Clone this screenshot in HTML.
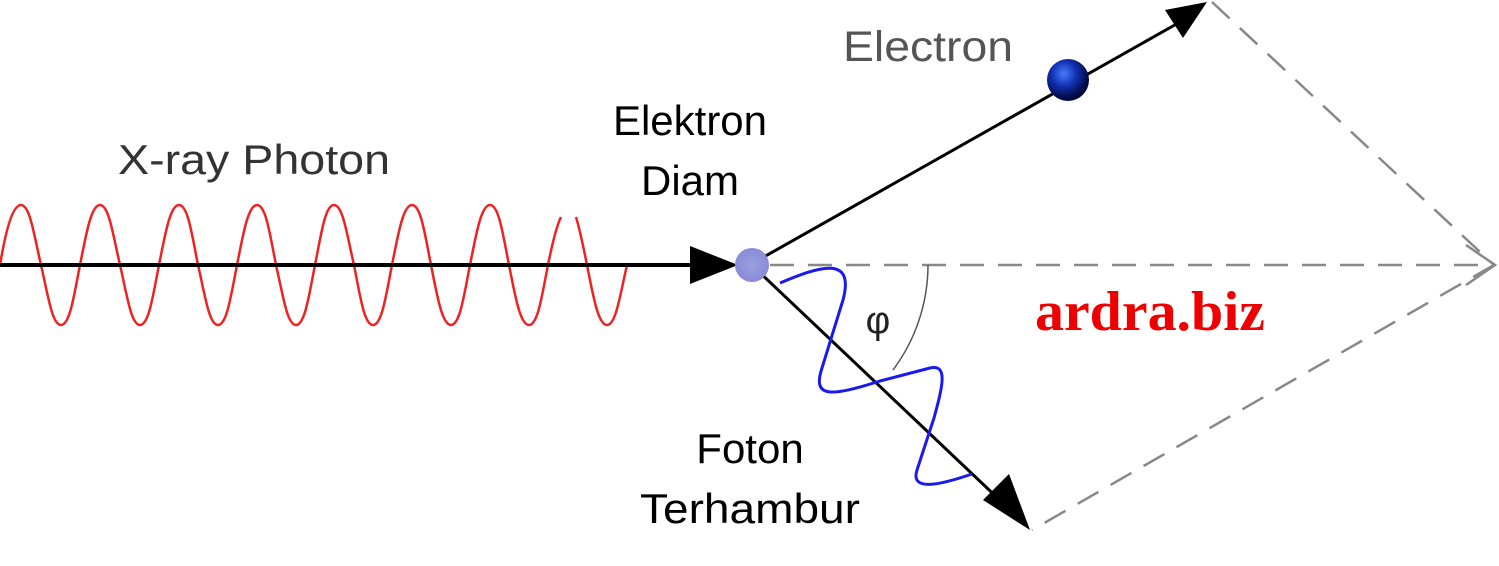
<!DOCTYPE html>
<html><head><meta charset="utf-8"><style>
html,body{margin:0;padding:0;background:#fff;width:1499px;height:566px;overflow:hidden}
svg{display:block}
</style></head><body>
<svg width="1499" height="566" viewBox="0 0 1499 566" xmlns="http://www.w3.org/2000/svg">
<path fill="none" stroke="#ee2222" stroke-width="2.5" d="M0,265 C5,235 12,205 21,205 C30,205 34,235 41,265 C48,295 52,325 61,325 C70,325 74,295 80,265 C86,235 91,205 100,205 C109,205 113,235 120,265 C127,295 131,325 140,325 C149,325 153,295 159,265 C165,235 170,205 179,205 C188,205 192,235 198,265 C205,295 209,325 218,325 C227,325 231,295 237,265 C243,235 248,205 257,205 C266,205 270,235 276,265 C283,295 287,325 296,325 C305,325 309,295 315,265 C321,235 325,205 334,205 C343,205 347,235 354,265 C360,295 364,325 373,325 C382,325 386,295 392,265 C398,235 403,205 412,205 C421,205 425,235 431,265 C437,295 442,325 451,325 C460,325 464,295 470,265 C476,235 481,205 490,205 C499,205 503,235 509,265 C515,295 520,325 529,325 C538,325 542,295 548,265 C553,240 557,225 561,217 M576,217 C580,230 583,245 587,265 C593,295 598,325 607,325 C616,325 620,295 627,265"/>
<line x1="0" y1="265" x2="700" y2="265" stroke="#000" stroke-width="4"/>
<polygon points="690,246 738,265 690,284" fill="#000"/>
<g stroke="#888" stroke-width="2.5" fill="none" stroke-dasharray="24,14">
<line x1="770" y1="265" x2="1492" y2="265"/>
<line x1="1212" y1="2" x2="1494" y2="265"/>
<line x1="1494" y1="265" x2="1032" y2="530"/>
</g>
<polyline points="1466,245 1495,265 1466,285" fill="none" stroke="#888" stroke-width="2.5"/>
<path d="M928,265 A176,176 0 0 1 893,370" fill="none" stroke="#555" stroke-width="1.5"/>
<line x1="762" y1="258" x2="1180" y2="22" stroke="#000" stroke-width="3"/>
<polygon points="1165,10 1207,2 1183,38" fill="#000"/>
<line x1="755" y1="268" x2="1005" y2="505" stroke="#000" stroke-width="3"/>
<polygon points="1030,530 983,500 1009,474" fill="#000"/>
<path d="M780,283 C820,266 855,255 843,300 L822,368 C812,398 830,397 880,381 L930,368 C948,364 943,385 934,418 L917,470 C910,492 940,485 972,474" fill="none" stroke="#1a1aee" stroke-width="3"/>
<defs>
<radialGradient id="g1" cx="50%" cy="50%" r="50%"><stop offset="0" stop-color="#9aa0e0"/><stop offset="1" stop-color="#8a8ad8"/></radialGradient>
<radialGradient id="g2" cx="40%" cy="35%" r="60%"><stop offset="0" stop-color="#4a7aff"/><stop offset="0.5" stop-color="#1030b0"/><stop offset="1" stop-color="#000840"/></radialGradient>
</defs>
<circle cx="752" cy="265" r="17" fill="url(#g1)"/>
<circle cx="1068" cy="80" r="21" fill="url(#g2)"/>
<g font-family="Liberation Sans, sans-serif">
<text x="843" y="61" font-size="43" fill="#555" textLength="170" lengthAdjust="spacingAndGlyphs">Electron</text>
<text x="118" y="174" font-size="42" fill="#333" textLength="272" lengthAdjust="spacingAndGlyphs">X-ray Photon</text>
<text x="878" y="333" font-size="38" fill="#222" text-anchor="middle">φ</text>
<text x="690" y="135" font-size="42" fill="#000" text-anchor="middle">Elektron</text>
<text x="690" y="195" font-size="42" fill="#000" text-anchor="middle">Diam</text>
<text x="750" y="463" font-size="42" fill="#000" text-anchor="middle">Foton</text>
<text x="750" y="523" font-size="42" fill="#000" text-anchor="middle" textLength="220" lengthAdjust="spacingAndGlyphs">Terhambur</text>
</g>
<text x="1035" y="330" font-family="Liberation Serif, serif" font-weight="bold" font-size="56" fill="#ee0000" textLength="230" lengthAdjust="spacingAndGlyphs">ardra.biz</text>
</svg>
</body></html>
